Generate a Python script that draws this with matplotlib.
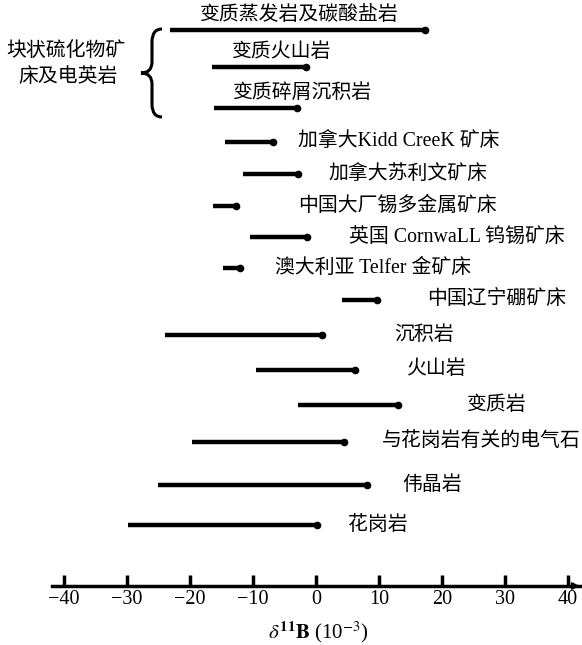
import numpy as np
import matplotlib.pyplot as plt
from matplotlib.path import Path
from matplotlib.patches import PathPatch

plt.rcParams['font.family'] = ['Liberation Serif', 'Noto Sans CJK SC', 'DejaVu Sans']
plt.rcParams['mathtext.fontset'] = 'stix'

# δ11B 范围 (10^-3)
names = ['变质蒸发岩及碳酸盐岩', '变质火山岩', '变质碎屑沉积岩',
         '加拿大Kidd CreeK 矿床', '加拿大苏利文矿床', '中国大厂锡多金属矿床',
         '英国 CornwaLL 钨锡矿床', '澳大利亚 Telfer 金矿床', '中国辽宁硼矿床',
         '沉积岩', '火山岩', '变质岩', '与花岗岩有关的电气石', '伟晶岩', '花岗岩']
lo = [-23.2, -16.5, -16.2, -14.4, -11.6, -16.3, -10.5, -14.8, 4.1,
      -24.0, -9.5, -2.9, -19.7, -25.1, -29.8]
hi = [17.3, -1.6, -3.0, -6.8, -2.9, -12.7, -1.4, -12.1, 9.7,
      1.0, 6.2, 13.0, 4.4, 8.1, 0.2]
ticks = [-40, -30, -20, -10, 0, 10, 20, 30, 40]

# 版面位置（像素行位置、标签位置）
row_y = [30, 67, 108, 142, 174, 206, 237, 268, 300, 335, 370, 405, 442, 485, 525]
lab_x = [-2.6, -5.5, -2.2, -2.9, 1.9, -2.9, 5.2, -6.5, 17.6,
         12.5, 14.4, 24.0, 10.5, 13.7, 5.1]

W, H = 582, 645
fig = plt.figure(figsize=(W / 100, H / 100), dpi=100)
ax = fig.add_axes([52 / W, (H - 586) / H, 528 / W, 576 / H])
ax.set_xlim(-41.9, 41.9)
ax.set_ylim(586, 10)

for i in range(len(names)):
    ax.plot([lo[i], hi[i]], [row_y[i], row_y[i]], color='black', lw=3.2,
            solid_capstyle='butt')
    ax.plot(hi[i], row_y[i], 'o', color='black', ms=4.5)
    if i < 3:
        # 块状硫化物矿床组：文字在线段上方
        ax.text(lab_x[i], row_y[i] - 5, names[i], ha='center', va='bottom',
                fontsize=14.3)
    else:
        ax.text(lab_x[i], row_y[i], names[i], ha='left', va='center',
                fontsize=14.3)

for s in ['top', 'left', 'right']:
    ax.spines[s].set_visible(False)
ax.spines['bottom'].set_linewidth(2.5)
ax.set_yticks([])
ax.set_xticks(ticks)
ax.tick_params(axis='x', direction='in', length=8, width=2.5, labelsize=14.5, pad=3)
ax.annotate('', xy=(42.3, 586), xytext=(40.5, 586), xycoords='data',
            arrowprops=dict(arrowstyle='-|>', color='black', lw=1.5,
                            mutation_scale=10), annotation_clip=False)

fig.text(318 / W, 1 - 632 / H, r'$\delta^{\mathbf{11}}\mathbf{B}$ (10$^{-3}$)',
         ha='center', va='center', fontsize=15)

# 左侧大括号（像素坐标）
pts = [(162, 29), (152, 29), (152, 42), (152, 62), (152, 73), (141, 73),
       (152, 73), (152, 84), (152, 104), (152, 117), (162, 117)]
codes = [Path.MOVETO, Path.CURVE3, Path.CURVE3, Path.LINETO, Path.CURVE3,
         Path.CURVE3, Path.CURVE3, Path.CURVE3, Path.LINETO, Path.CURVE3,
         Path.CURVE3]
verts = [(x / W, 1 - y / H) for x, y in pts]
fig.patches.append(PathPatch(Path(verts, codes), fill=False, lw=2.2,
                             edgecolor='black', transform=fig.transFigure))

fig.text(66 / W, 1 - 52 / H, '块状硫化物矿', ha='center', va='center', fontsize=14.3)
fig.text(68 / W, 1 - 78 / H, '床及电英岩', ha='center', va='center', fontsize=14.3)

fig.savefig('out.png', dpi=100)
